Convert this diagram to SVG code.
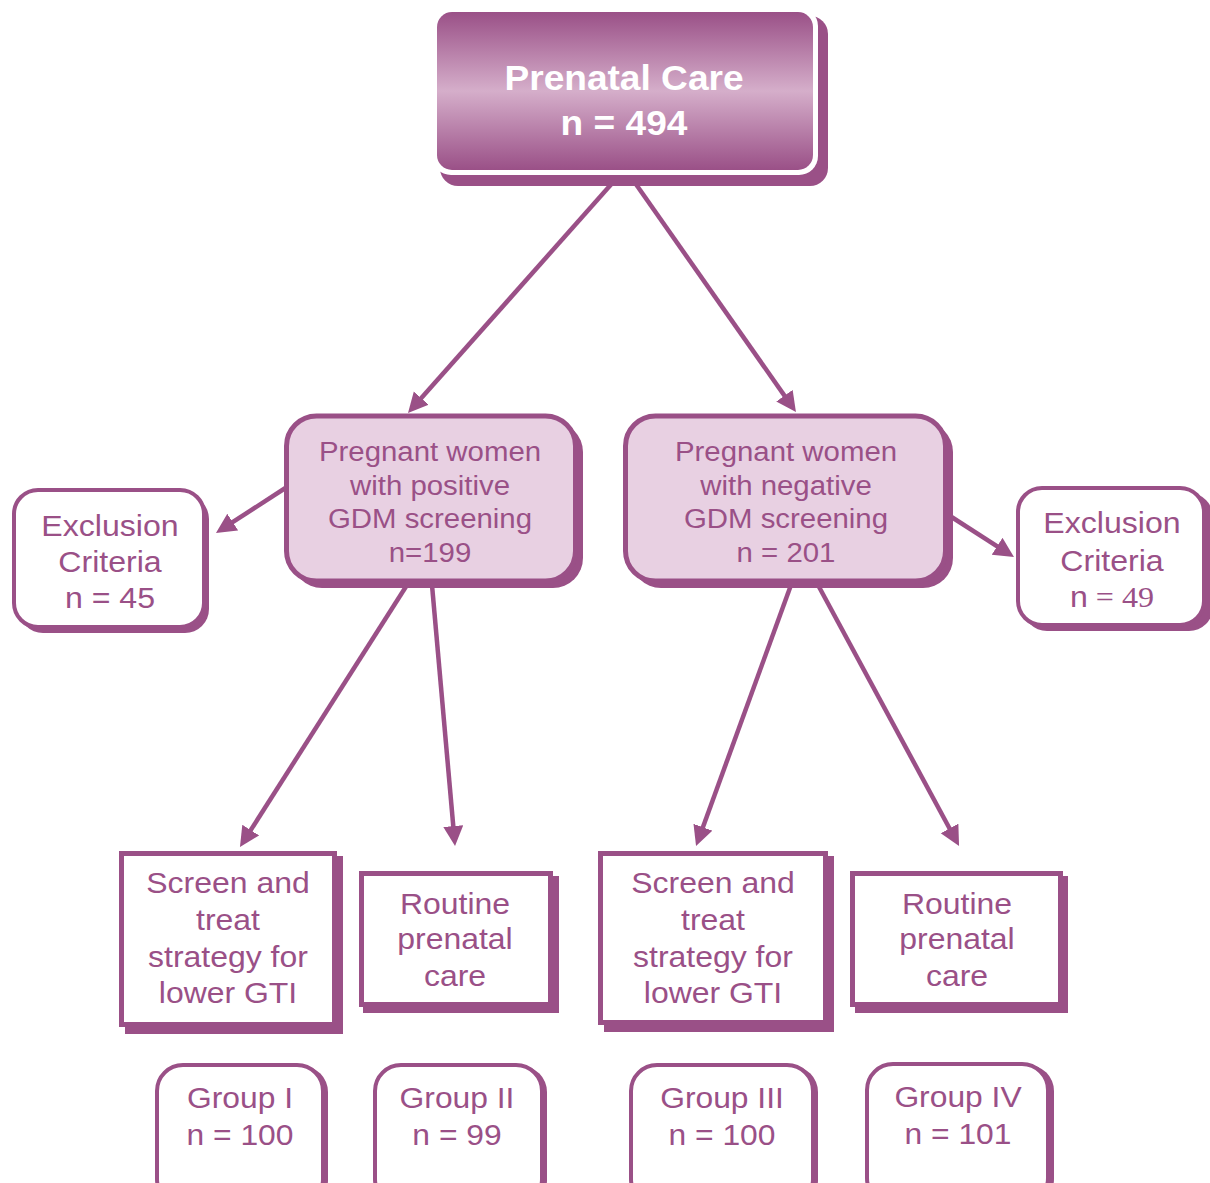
<svg xmlns="http://www.w3.org/2000/svg" width="1210" height="1183" viewBox="0 0 1210 1183">
<defs>
<linearGradient id="topGrad" x1="0" y1="0" x2="0" y2="1">
<stop offset="0" stop-color="#9A5087"/>
<stop offset="0.5" stop-color="#D5AECA"/>
<stop offset="1" stop-color="#9A5087"/>
</linearGradient>
<marker id="arrow" markerUnits="userSpaceOnUse" markerWidth="22" markerHeight="22" refX="14" refY="10" orient="auto">
<path d="M0,0 L20,10 L0,20 z" fill="#9A5087"/>
</marker>
</defs>
<style>
.sh{fill:#9A5087;}
.mid{fill:#E8D0E2;stroke:#9A5087;stroke-width:5;}
.wb{fill:#ffffff;stroke:#9A5087;stroke-width:4;}
.wr{fill:#ffffff;stroke:#9A5087;stroke-width:5;}
.t{font-family:"Liberation Sans",Arial,sans-serif;fill:#9A5087;text-anchor:middle;}
.tt{font-family:"Liberation Sans",Arial,sans-serif;fill:#ffffff;text-anchor:middle;font-weight:bold;font-size:35px;}
.c{stroke:#9A5087;stroke-width:4.5;fill:none;marker-end:url(#arrow);}
</style>
<rect width="1210" height="1183" fill="#ffffff"/>
<g id="connectors">
<line class="c" x1="615" y1="180" x2="412" y2="408.6"/>
<line class="c" x1="633" y1="180" x2="792.5" y2="407.1"/>
<line class="c" x1="290" y1="485" x2="221" y2="529.7"/>
<line class="c" x1="950" y1="516" x2="1008.9" y2="553.8"/>
<line class="c" x1="407" y1="585" x2="243.2" y2="841.9"/>
<line class="c" x1="432" y1="585" x2="454.5" y2="840"/>
<line class="c" x1="791" y1="585" x2="698.1" y2="840.4"/>
<line class="c" x1="818" y1="585" x2="956.2" y2="840.7"/>
</g>
<g id="prenatal-care">
<rect class="sh" x="440" y="16" width="388" height="170" rx="18"/>
<rect x="432" y="7" width="386" height="168" rx="19" fill="#ffffff"/>
<rect x="437" y="12" width="376" height="158" rx="15" fill="url(#topGrad)"/>
<g transform="translate(624 0) scale(1.06 1)">
<text class="tt" x="0" y="90">Prenatal Care</text>
<text class="tt" x="0" y="135">n = 494</text>
</g>
</g>
<g id="positive">
<rect class="sh" x="292" y="422" width="291" height="166" rx="30"/>
<rect class="mid" x="286.5" y="416" width="289" height="165" rx="30"/>
<g transform="translate(430 0) scale(1.05 1)" class="t" font-size="28">
<text x="0" y="461">Pregnant women</text>
<text x="0" y="495">with positive</text>
<text x="0" y="528">GDM screening</text>
<text x="0" y="562">n=199</text>
</g>
</g>
<g id="negative">
<rect class="sh" x="631" y="422" width="322" height="166" rx="30"/>
<rect class="mid" x="625.5" y="416" width="320" height="165" rx="30"/>
<g transform="translate(786 0) scale(1.05 1)" class="t" font-size="28">
<text x="0" y="461">Pregnant women</text>
<text x="0" y="495">with negative</text>
<text x="0" y="528">GDM screening</text>
<text x="0" y="562">n = 201</text>
</g>
</g>
<g id="exclusion-left">
<rect class="sh" x="19" y="495" width="190" height="138" rx="24"/>
<rect class="wb" x="14" y="490" width="190" height="137" rx="24"/>
<g transform="translate(110 0) scale(1.07 1)" class="t" font-size="30">
<text x="0" y="536">Exclusion</text>
<text x="0" y="572">Criteria</text>
<text x="0" y="608">n = 45</text>
</g>
</g>
<g id="exclusion-right">
<rect class="sh" x="1023" y="493" width="190" height="138" rx="24"/>
<rect class="wb" x="1018" y="488" width="186" height="137" rx="24"/>
<g transform="translate(1112 0) scale(1.07 1)" class="t" font-size="30">
<text x="0" y="533">Exclusion</text>
<text x="0" y="571">Criteria</text>
<text x="0" y="607">n<tspan font-family="'Liberation Serif','Times New Roman',serif"> = 49</tspan></text>
</g>
</g>
<g id="screen-1">
<rect class="sh" x="125" y="856" width="218" height="178"/>
<rect class="wr" x="121.5" y="853.5" width="213" height="171"/>
<g transform="translate(228 0) scale(1.065 1)" class="t" font-size="30">
<text x="0" y="893">Screen and</text>
<text x="0" y="930">treat</text>
<text x="0" y="967">strategy for</text>
<text x="0" y="1003">lower GTI</text>
</g>
</g>
<g id="routine-1">
<rect class="sh" x="363" y="876" width="196" height="137"/>
<rect class="wr" x="361.5" y="873.5" width="189" height="131"/>
<g transform="translate(455 0) scale(1.065 1)" class="t" font-size="30">
<text x="0" y="914">Routine</text>
<text x="0" y="949">prenatal</text>
<text x="0" y="986">care</text>
</g>
</g>
<g id="screen-2">
<rect class="sh" x="604" y="856" width="230" height="176"/>
<rect class="wr" x="600.5" y="853.5" width="225" height="169"/>
<g transform="translate(713 0) scale(1.065 1)" class="t" font-size="30">
<text x="0" y="893">Screen and</text>
<text x="0" y="930">treat</text>
<text x="0" y="967">strategy for</text>
<text x="0" y="1003">lower GTI</text>
</g>
</g>
<g id="routine-2">
<rect class="sh" x="855" y="876" width="213" height="137"/>
<rect class="wr" x="852.5" y="873.5" width="208" height="131"/>
<g transform="translate(957 0) scale(1.065 1)" class="t" font-size="30">
<text x="0" y="914">Routine</text>
<text x="0" y="949">prenatal</text>
<text x="0" y="986">care</text>
</g>
</g>
<g id="group-1">
<rect class="sh" x="160" y="1066" width="168" height="140" rx="26"/>
<rect class="wb" x="157" y="1065" width="166" height="140" rx="26"/>
<g transform="translate(240 0) scale(1.06 1)" class="t" font-size="30">
<text x="0" y="1108">Group I</text>
<text x="0" y="1145">n = 100</text>
</g>
</g>
<g id="group-2">
<rect class="sh" x="378" y="1066" width="169" height="140" rx="26"/>
<rect class="wb" x="375" y="1065" width="167" height="140" rx="26"/>
<g transform="translate(457 0) scale(1.06 1)" class="t" font-size="30">
<text x="0" y="1108">Group II</text>
<text x="0" y="1145">n = 99</text>
</g>
</g>
<g id="group-3">
<rect class="sh" x="634" y="1066" width="184" height="140" rx="26"/>
<rect class="wb" x="631" y="1065" width="182" height="140" rx="26"/>
<g transform="translate(722 0) scale(1.06 1)" class="t" font-size="30">
<text x="0" y="1108">Group III</text>
<text x="0" y="1145">n = 100</text>
</g>
</g>
<g id="group-4">
<rect class="sh" x="870" y="1065" width="184" height="140" rx="26"/>
<rect class="wb" x="867" y="1064" width="181" height="140" rx="26"/>
<g transform="translate(958 0) scale(1.06 1)" class="t" font-size="30">
<text x="0" y="1107">Group IV</text>
<text x="0" y="1144">n = 101</text>
</g>
</g>
</svg>
